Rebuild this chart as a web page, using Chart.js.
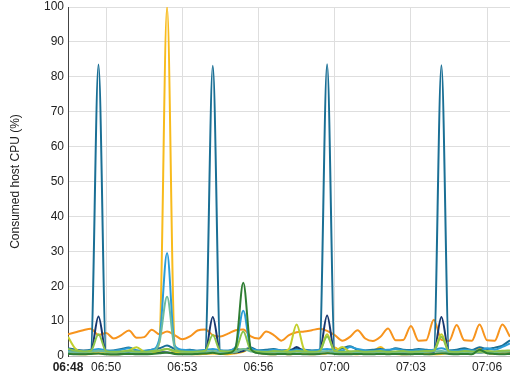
<!DOCTYPE html>
<html>
<head>
<meta charset="utf-8">
<script src="https://cdn.jsdelivr.net/npm/chart.js@4/dist/chart.umd.min.js"></script>
<style>
  html, body { margin: 0; padding: 0; background: #fff; }
  #wrap { width: 510px; height: 388px; position: relative; }
</style>
</head>
<body>
<div id="wrap"><canvas id="cpuChart"></canvas></div>
<script>
// Consumed host CPU (%) per VM, 20 second samples from 06:48 on.
const tickIndex = [0, 5, 15, 25, 35, 45, 55];
const tickLabels = ['06:48', '06:50', '06:53', '06:56', '07:00', '07:03', '07:06'];
const yTicks = [0, 10, 20, 30, 40, 50, 60, 70, 80, 90, 100];

const orangeVals = [6.2,6.8,7.4,7.8,6.0,6.6,5.0,6.0,7.3,5.2, 5.4,7.5,6.2,7.0,6.0,4.8,5.6,7.3,7.6,6.0,
  5.6,6.4,7.4,7.6,5.6,5.0,7.0,6.0,4.4,6.0, 6.8,7.0,7.4,7.8,7.2,6.0,4.4,5.5,7.4,5.0,
  4.3,5.5,7.9,4.5,4.6,8.6,4.4,4.5,10.4,4.6, 4.3,8.9,4.5,4.4,9.0,4.5,4.4,9.0,5.5];
const tealVals = [2.2,1.8,1.6,1.8,83.5,1.5,1.6,2.0,2.4,1.6, 1.4,1.8,2.2,3.0,2.0,1.6,1.8,1.5,1.7,83.2,
  1.6,1.5,2.0,1.8,2.4,1.6,1.8,2.0,1.6,1.7, 2.0,1.8,1.6,1.8,83.6,1.6,2.2,2.8,1.8,1.6,
  1.8,2.0,1.6,2.2,1.8,1.7,2.0,1.8,1.6,83.3, 1.6,1.8,2.2,1.7,2.5,2.0,2.4,3.0,4.5];
const navyVals = [1.2,1.0,1.0,1.2,11.3,1.0,0.8,0.9,1.0,0.8, 0.9,1.0,1.1,1.0,0.9,1.0,0.9,1.0,1.1,11.2,
  1.0,0.9,1.0,1.4,2.0,1.0,0.9,1.0,1.1,1.2, 2.6,1.2,1.0,1.1,11.6,1.0,0.9,1.0,1.0,0.9,
  1.0,1.0,1.1,1.0,0.9,1.0,1.0,1.2,1.0,11.2, 1.0,0.9,1.0,1.1,1.0,1.2,1.0,1.1,1.0];
const yellowVals = [0.8,0.6,0.5,0.6,0.8,0.6,0.5,0.6,0.8,1.0, 0.8,0.9,4.0,100,3.0,0.8,0.6,0.5,0.6,0.7,
  0.6,0.5,0.8,1.2,2.2,1.0,0.6,0.5,0.6,0.5, 0.7,0.6,0.5,0.6,0.8,2.4,0.8,0.6,0.5,0.8,
  1.2,2.6,0.9,0.6,0.5,0.6,0.8,0.6,0.5,0.6, 0.8,0.6,0.8,1.4,2.2,1.0,0.6,0.8,1.2];
const cyanVals = [1.8,1.5,1.4,1.6,2.0,1.6,1.5,1.8,2.2,1.6, 1.5,1.8,5.0,29.5,3.0,1.8,1.6,1.5,1.7,2.0,
  1.6,1.5,2.6,13.0,2.2,1.6,1.5,1.8,1.6,1.5, 1.7,1.6,1.5,1.8,2.0,1.7,1.6,2.6,2.0,1.6,
  1.5,1.7,1.8,2.0,1.6,1.5,1.7,1.6,1.8,2.2, 1.6,1.5,1.8,1.6,1.5,2.2,1.8,2.6,3.6];
const seaGreenVals = [1.2,1.0,1.1,1.3,1.5,1.2,1.0,1.1,1.2,1.0, 1.1,1.3,4.0,17.0,2.5,1.2,1.0,1.1,1.2,1.4,
  1.1,1.0,1.2,2.0,1.3,1.1,1.0,1.2,1.1,1.0, 1.2,1.1,1.0,1.2,1.4,1.1,1.0,1.2,1.1,1.0,
  1.1,1.2,1.0,1.1,1.2,1.0,1.1,1.2,1.3,1.4, 1.1,1.0,1.2,1.1,1.0,1.2,1.1,1.3,1.4];
const darkGreenVals = [0.6,0.5,0.5,0.6,0.7,0.5,0.4,0.5,0.6,0.5, 0.5,0.6,0.8,1.0,0.6,0.5,0.5,0.6,0.7,0.9,
  0.6,0.8,2.5,21.0,2.0,0.8,0.6,0.5,0.6,0.5, 0.6,0.5,0.5,0.6,0.8,0.6,0.5,0.5,0.6,0.5,
  0.5,0.6,0.5,0.6,0.5,0.5,0.6,0.5,0.6,0.8, 0.6,0.5,0.6,0.5,1.8,0.8,0.6,0.5,0.6];
const lightGreenVals = [2.0,1.5,1.3,1.5,6.2,1.4,1.2,1.3,1.5,1.3, 1.2,1.4,1.6,2.0,1.5,1.3,1.2,1.3,1.5,6.0,
  1.4,1.3,1.8,7.0,1.6,1.3,1.2,1.4,1.3,1.2, 1.4,1.3,1.2,1.4,5.6,1.4,1.2,1.3,1.4,1.2,
  1.3,1.4,1.2,1.3,1.4,1.2,1.3,1.4,1.5,5.5, 1.3,1.2,1.4,1.3,1.2,1.4,1.3,1.5,1.6];
const limeVals = [5.5,2.0,1.2,1.0,1.5,1.0,0.9,1.2,1.6,2.5, 1.2,1.0,1.5,2.0,1.2,1.0,0.9,1.0,1.2,1.4,
  1.0,0.9,1.2,2.0,1.5,1.0,0.9,1.0,1.2,2.0, 9.0,1.8,1.0,1.2,6.2,1.4,2.6,1.2,1.0,0.9,
  1.0,1.2,1.0,1.1,1.2,1.0,1.1,1.2,1.5,6.2, 1.2,1.0,1.1,1.0,1.2,1.0,1.1,1.2,1.3];

const FONT = 'Arial, "Liberation Sans", sans-serif';

function line(label, vals, color) {
  return {
    label,
    data: vals.map((v, i) => ({ x: i, y: v })),
    borderColor: color,
    backgroundColor: color,
    borderWidth: 2,
    pointRadius: 0,
    fill: false,
    cubicInterpolationMode: 'monotone'
  };
}

const datasets = [
  line('vm-darkgreen', darkGreenVals, '#2e7d32'),
  line('vm-lightgreen', lightGreenVals, '#8bc34a'),
  line('vm-seagreen', seaGreenVals, '#6dbb9e'),
  line('vm-lime', limeVals, '#c3cf2c'),
  line('vm-cyan', cyanVals, '#2a9dd8'),
  line('vm-navy', navyVals, '#17376f'),
  line('vm-teal', tealVals, '#1a6f95'),
  line('vm-yellow', yellowVals, '#f8bb1c'),
  line('vm-orange', orangeVals, '#f7941d')
];

new Chart(document.getElementById('cpuChart'), {
  type: 'line',
  data: { datasets },
  options: {
    responsive: true,
    maintainAspectRatio: false,
    animation: false,
    layout: { padding: { top: 7, right: 0, left: 0, bottom: 0 } },
    plugins: { legend: { display: false }, tooltip: { enabled: false } },
    scales: {
      x: {
        type: 'linear',
        min: 0,
        max: tealVals.length - 1,
        afterBuildTicks: axis => { axis.ticks = tickIndex.map(v => ({ value: v })); },
        afterFit: axis => { axis.height = 32; axis.paddingLeft = 0; axis.paddingRight = 0; },
        ticks: {
          autoSkip: false,
          maxRotation: 0,
          padding: 4,
          color: '#222',
          font: ctx => ({ family: FONT, size: 12, weight: ctx.index === 0 ? 'bold' : 'normal' }),
          callback: (v, i) => tickLabels[i]
        },
        grid: { color: '#dedede', drawTicks: false },
        border: { color: '#bbb' }
      },
      y: {
        min: 0,
        max: 100,
        afterBuildTicks: axis => { axis.ticks = yTicks.map(v => ({ value: v })); },
        afterFit: axis => { axis.width = 68; axis.paddingTop = 0; axis.paddingBottom = 0; },
        ticks: { padding: 4, color: '#222', font: { family: FONT, size: 12 } },
        grid: { color: '#dedede', drawTicks: false },
        border: { color: '#444' },
        title: {
          display: true,
          text: 'Consumed host CPU (%)',
          color: '#222',
          font: { family: FONT, size: 12 },
          padding: { top: 8, bottom: 4 }
        }
      }
    }
  }
});
</script>
</body>
</html>
